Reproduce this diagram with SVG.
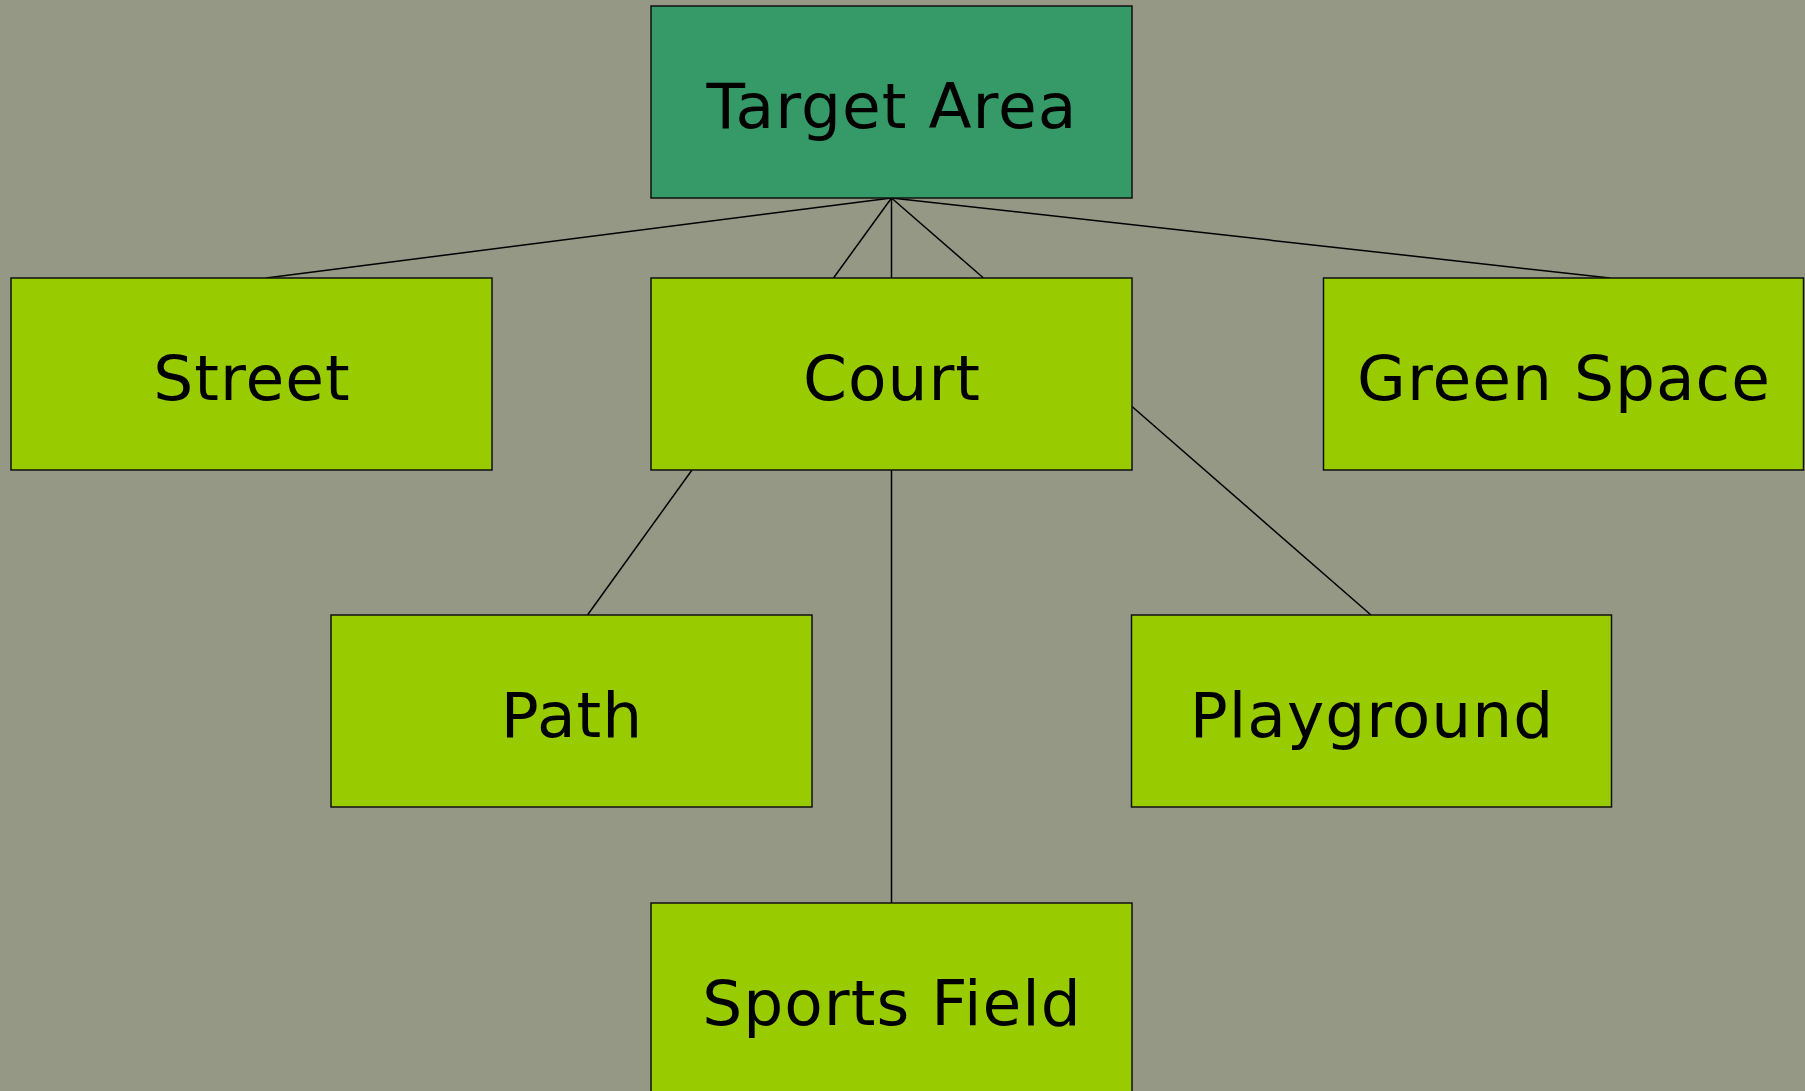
<svg xmlns="http://www.w3.org/2000/svg" width="1805" height="1091" viewBox="0 0 1805 1091">
<style>
.node rect{stroke:#111;stroke-width:1.5}
.leaf rect{fill:#99CC00}
.root rect{fill:#359A68}
text{font-family:"DejaVu Sans",sans-serif;font-size:63px;fill:#000;text-anchor:middle;letter-spacing:1px}
.edges line{stroke:#000;stroke-width:1.5}
</style>
<rect x="0" y="0" width="1805" height="1091" fill="#959884"/>
<g class="edges">
<line x1="891.5" y1="198" x2="266" y2="278"/>
<line x1="891.5" y1="198" x2="833.5" y2="278"/>
<line x1="891.5" y1="198" x2="891.5" y2="278"/>
<line x1="891.5" y1="198" x2="983.5" y2="278"/>
<line x1="891.5" y1="198" x2="1610" y2="278"/>
<line x1="692" y1="470" x2="587.5" y2="615"/>
<line x1="891.5" y1="470" x2="891.5" y2="903"/>
<line x1="1132" y1="406.5" x2="1371" y2="615"/>
</g>
<g id="target-area" class="node root"><rect x="651" y="6" width="481" height="192"/><text x="892" y="128">Target Area</text></g>
<g id="street" class="node leaf"><rect x="11" y="278" width="481" height="192"/><text x="252" y="400">Street</text></g>
<g id="court" class="node leaf"><rect x="651" y="278" width="481" height="192"/><text x="892" y="400">Court</text></g>
<g id="green-space" class="node leaf"><rect x="1323.5" y="278" width="480" height="192"/><text x="1564" y="400">Green Space</text></g>
<g id="path" class="node leaf"><rect x="331" y="615" width="481" height="192"/><text x="572" y="737">Path</text></g>
<g id="playground" class="node leaf"><rect x="1131.5" y="615" width="480" height="192"/><text x="1372" y="737">Playground</text></g>
<g id="sports-field" class="node leaf"><rect x="651" y="903" width="481" height="192"/><text x="892" y="1025">Sports Field</text></g>
</svg>
